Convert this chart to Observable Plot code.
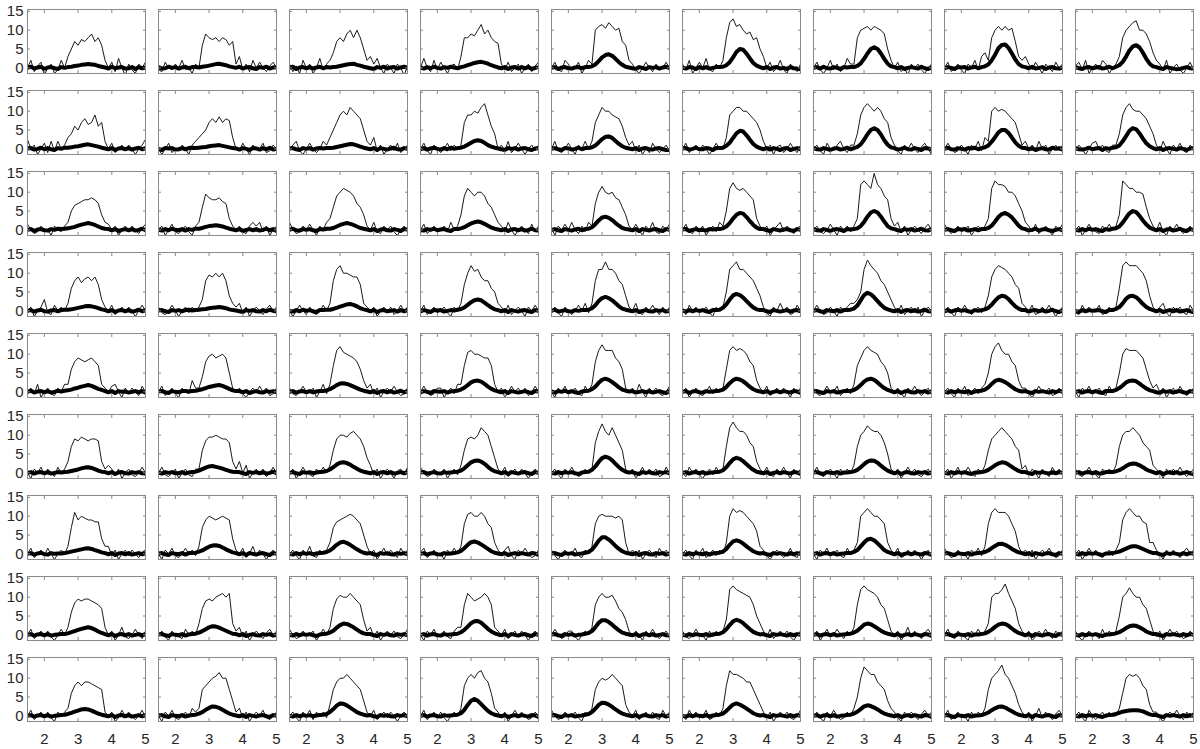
<!DOCTYPE html>
<html>
<head>
<meta charset="utf-8">
<script src="https://cdn.jsdelivr.net/npm/d3@7"></script>
<script src="https://cdn.jsdelivr.net/npm/@observablehq/plot@0.6"></script>
<style>
  html, body { margin: 0; padding: 0; background: #fff; }
  #chart { width: 1200px; height: 749px; }
</style>
</head>
<body>
<div id="chart"></div>
<script>
// sampling grid (x) shared by all panels
const xs = [1.5,1.6,1.7,1.8,1.9,2.0,2.1,2.2,2.3,2.4,2.5,2.6,2.7,2.8,2.9,3.0,3.1,3.2,3.3,3.4,3.5,3.6,3.7,3.8,3.9,4.0,4.1,4.2,4.3,4.4,4.5,4.6,4.7,4.8,4.9,5.0];
const xTicks = [2, 3, 4, 5];
const yTicks = [0, 5, 10, 15];
const cols = [0,1,2,3,4,5,6,7,8];
const rows = [0,1,2,3,4,5,6,7,8];

// thin (raw) series, one string per panel, row by row
const thin0 = [
"0 2 -1 .5 1.5 -2, 0 1 -1.5 -.5 2 0, 3 5 7 6 7.5 7, 8 9 7 8 6 2, 0 1.5 -1 2.5 0 -2, 1 -.5 -1.5 1 0 1.5",
"-.5 -1 1.5 0 -.5 1, 0 2 -.5 0 -1.5 1, 0 6 9 8 7.5 8, 7 8 7.5 6 7 1, 3 -.5 1 -1 2 0, 1.5 0 -1 .5 1.5 0",
"1 -1 .5 -1.5 2 0, 1 -1.5 0 2.5 -.5 1, 2 4 7 8 7 9, 10 8 10 8 5 2, 3 1 2.5 0 -1.5 1, 0 -1.5 1 0 -2 .5",
"0 2.5 0 -1 2 -.5, 1.5 0 -1.5 .5 1 -.5, 3 8 8 9 8.5 10, 11.5 9 10 8 7 6.5, 1 -.5 1.5 -1 0 1, -1.5 0 1 -1 .5 1.5",
"0 1.5 -.5 -1 2 1, -.5 0 1.5 -1.5 0 2, 1 10 11 11.5 10.5 12, 11 10 10.5 7 6 2, 1 -.5 -1.5 0 1.5 0, -1 1 -.5 0 1.5 0",
"1 -.5 2 -1.5 0 1.5, 0 2.5 -.5 -1 1 0, 2 8 12 13 11 11.5, 10 9 9.5 7.5 8 5, 3 0 1.5 -1 0 2, -.5 -1.5 1 0 -1 1",
"0 1.5 -.5 -1.5 0 2, -.5 1 -1 0 2.5 1, 1 8 10 10.5 11 10, 11 10.5 10 9 5 2, 0 1.5 -1 0 -2 1, 0 1 -.5 -1.5 0 1",
"0 1.5 -1 0 1 -.5, -1.5 1 0 2 -.5 3, 4 2 8 10 11 10, 11 10 10.5 7 3 2, 3 1 -.5 1.5 0 -1.5, 1 0 -1 1.5 0 1",
".5 1.5 -.5 2 -1.5 0, 1 -.5 2 1 -1.5 0, 1 3 8 10 11 12, 12.5 10 10 9 7 4, 2 1 -.5 2 -1.5 0, 1 -.5 -1.5 0 1.5 -.5"
];
const thin1 = [
"2.5 0 1 -1.5 0 1.5, -1 2 -.5 2 0 1, 3 4 6 5 7 8, 6.5 7 9 6 7 2, 0 1.5 -1 0 1 -.5, 1 0 -1.5 0 1 2.5",
"0 -1.5 0 1.5 -1 0, -.5 1 0 -1.5 1 2, 3 4 5 7 8 7, 8.5 7 8 7.5 3 0, -.5 1.5 0 -1.5 1 0, 0 1.5 -1 -.5 1 0",
"0 1 2 -.5 -1.5 0, 1.5 0 -1 0 2 1, 3 5 7 9 10 9, 11 10 9 8 5 2, 1 3 -.5 1 -1.5 0, 1 -.5 1.5 -1 0 1",
"0 1.5 -.5 -1.5 1 0, -1 0 1.5 -.5 1 0, 1 7 9 9 10 9.5, 11 12 9 6 4 0, 1 -.5 2 -1 0 1.5, 0 -1.5 0 1 -.5 1",
"0 2 -.5 -1 0 1.5, 0 -1.5 1 0 2 0, 2 7 9 11 10 10, 9 8.5 8 6 3 1, 2 -.5 1 -1.5 0 -1, 1.5 0 -1 0 1 -.5",
"0 1.5 -1 0 1 -.5, 1 0 -1.5 0 1.5 0, 0 3 9 10 11 11, 10 10 9 8 7 5, 2 0 1 -1.5 .5 1, -1 0 1.5 0 -1 1",
"0 1 -.5 -1.5 1.5 0, -.5 1 2 0 -1 1, 1 4 9 11 12 11, 10 11 10 8 7 3, 1 -.5 -1.5 1 0 1.5, 0 -1 .5 1.5 0 -1.5",
"0 1.5 0 -1 -.5 1, 0 -1.5 1 0 2 -.5, 3 2 10 11 10 10.5, 10 9 8 7 4 1, 2 0 1 -.5 2 0, 1 -1.5 0 1 -.5 1",
"-.5 1 0 -1.5 0 1.5, 2 0 1 -.5 -1 1, 1 4 9 11 12 10.5, 10 10 9 8 6 4, 1 -.5 2 0 -1.5 1, 0 1.5 -.5 -1 1 0"
];
const thin2 = [
"1.5 0 -1 -.5 1 0, 0 -1.5 1 0 -.5 1, 2 5 6.5 7 7.5 8, 8 8.5 8 7 4 2, 1.5 0 1 -1.5 0 1, -.5 1 0 -1 .5 1.5",
"0 1 -1.5 0 1.5 -.5, -1 0 1 -.5 -1.5 1, 2 6 9.5 8.5 8 8, 8.5 7.5 7 3 1 0, 1 -.5 -1 1 2 1, 2 -.5 1 -1.5 0 1",
"2 0 -1 -.5 1 0, 1.5 0 -1.5 1 0 2, 3 6 9 10 11 10.5, 10 9 7 6 4 1, 0 2 -.5 -1 1 0, 1 -.5 -1.5 0 1 -.5",
"0 1.5 -1 0 1 -.5, 0 1 -.5 2 0 1, 4 9 11 10 9 10, 10 9 7 6 4 2, 1 -.5 2 0 -1.5 0, 1 0 -1 1.5 -.5 1",
".5 -1.5 1 0 1.5 0, 2 0 -1 1 -.5 2, 1 7 10 11.5 10 9.5, 10 8.5 8 6 4 1, 0 1.5 0 -1.5 1 0, 2 -.5 -1 1 0 1.5",
"0 1.5 -.5 -1 1 0, 1 -1.5 0 1 -.5 2, 1 5 11 12.5 11 10.5, 11 10 9 8 3 1, 0 1 -1.5 0 1 2, -.5 1 0 -1 .5 1",
"0 1 -.5 -1 0 1.5, 0 -1.5 1 0 1 -.5, 1 3 12 13 12 11, 15 12 11 9 8 3, 1 2 -.5 1 -1.5 0, 1 0 -1 .5 1.5 0",
"1.5 0 -1 0 1 -.5, 0 1 -1.5 0 1 0, 1 3 11 13 12 12, 11.5 10 10 9 7 5, 2 1 -.5 1.5 -1 0, 1 0 -1.5 1 0 1.5",
"0 1 -1.5 0 1.5 0, -.5 -1 1 0 1.5 0, 1 4 13 12 11 11, 10 10 9.5 6 3 1, 0 2 -.5 -1.5 1 0, 1.5 0 -1 0 1 -.5"
];
const thin3 = [
"0 1 -1.5 0 1 3, -.5 -1 1.5 0 1 0, 2 6 8 9 7.5 8.5, 9 8 9 7 3 1, 0 1.5 -1 0 1 -.5, 1 0 -1.5 0 1.5 0",
"1 -.5 -1 0 1.5 0, -1.5 0 1 -.5 1 0, 1 3 8 9.5 9 10, 9 10 8 4 2 1, 2 -.5 1 -1.5 0 1, 0 -1 .5 1.5 0 1",
"0 -1.5 0 1.5 0 -1, 1 -.5 -1 0 1.5 0, 2 8 11 12 10 10, 9.5 9 9 7 2 1, 0 1 -1.5 0 1 -.5, 1 -1 0 1.5 0 1",
"0 1.5 -1 0 1 -.5, 0 1 -.5 -1.5 1 0, 2 7 10 12 10.5 11, 9 8 8 6 5 2, 1 -.5 1.5 -1 0 1, 0 -1.5 1 0 1.5 0",
"0 1 -.5 -1.5 1 0, -1 0 1.5 0 2 -.5, 2 8 11 11 13 11, 11 10 8 7 4 1, 0 2 -.5 -1 1 0, 1.5 0 -1 1 -.5 1",
".5 -1 1.5 0 1 -.5, 0 1 -.5 -1.5 1 0, 1 5 11 12 13 11, 11 10 9 8 6 4, 1 -.5 -1.5 1 0 2, 0 1 -1 -.5 1.5 0",
"0 1.5 0 -1 -.5 1, 0 -1.5 1 0 1 2, 2 3 5 11 13.5 12, 11 10 8 7 5 3, 1 -.5 1.5 -1 0 1, -.5 1 -1.5 0 1 0",
"0 1 -.5 -1.5 1 0, 1.5 0 -1 0 1 -.5, 1 4 9 11 12 11.5, 11 10 9 7 6 2, 1 0 1.5 -1 -.5 1, 0 1.5 0 -1.5 0 1",
"-.5 -1 1.5 0 1 0, 0 1.5 -1 -.5 1 0, 1 6 12 13 12 12, 12 11 10 8 4 1, 0 1 2 -.5 -1.5 1, 0 1 -.5 -1 1.5 0"
];
const thin4 = [
"0 1 -.5 2 -1.5 0, 1 -.5 -1 1 0 2, 2 6 8 9 8.5 8, 8.5 9 8 7 2 1, 0 1.5 2 0 -1.5 1, -.5 1 0 -1 1.5 0",
"0 1.5 -1 0 1 -.5, -1.5 1 0 -.5 3 1, 1 4 8 9.5 10 9, 9.5 10 9 5 1 0, 1 -.5 -1.5 0 1 0, 1.5 0 1 -1 -.5 1",
"1 -.5 -1 0 1.5 0, 0 1 -1.5 0 2 -.5, 2 7 11 12 10.5 10, 9.5 9 8 6 3 1, 2 -.5 1 -1.5 0 1, 0 1.5 0 -1 -.5 1",
"0 1.5 0 -1 -.5 1, 1 -1.5 0 1 -.5 2, 2 7 10.5 11 10 10, 9.5 9 9 7 2 0, 1 -1.5 0 1.5 0 1, -.5 1 -1 0 1.5 0",
"0 -1.5 1 0 1.5 -.5, 0 1 -.5 -1 1.5 0, 2 8 11 12.5 11 11, 11 9 8 6 1 0, 1 -.5 2 0 -1.5 1, 0 1 -.5 -1 0 1.5",
"0 1 -1.5 0 1 -.5, -1 0 1.5 -.5 1 0, 1 6 11 12 11 11.5, 11 10 8 7 3 1, 0 1.5 -1 0 1 -.5, 1 0 -1.5 1 0 1",
"1 -.5 -1 0 1.5 0, 0 1.5 -1 0 1 -.5, 2 7 9 11 12 11, 10.5 10 8 7 5 1, 0 1 -.5 -1.5 1 0, 1.5 0 -1 0 1 -.5",
"0 1 -.5 -1.5 1 0, 1.5 -1 0 1 -.5 1, 2 5 10 12 13 11, 10 10 8 7 3 1, 1 -.5 -1.5 0 1.5 0, 0 1 -1 -.5 1 0",
"0 -1.5 1 0 1.5 -.5, 0 1 -.5 -1 1.5 0, 1 5 10 11.5 11 11, 11 10 9 6 3 1, 2 0 1 -1.5 0 1, -.5 1.5 0 -1 0 1"
];
const thin5 = [
"0 -1.5 1 0 1.5 -.5, 1 0 -1 1.5 0 1, 3 7 9 8.5 9.5 9, 8.5 9 9 8.5 3 1, 2 1 -.5 1 -1.5 0, 1 -.5 -1 0 1.5 0",
"0 1.5 -.5 -1 0 1, -1.5 0 1 -.5 -1 1, 1 6 8.5 9.5 9.5 10, 9.5 9 9 8 3 1, 3 0 2 -1.5 0 1, -.5 1 -1 0 1.5 0",
"0 1 -1.5 0 1.5 0, -.5 -1 1 0 1.5 0, 2 6 9 10 10 9.5, 10.5 11 10 9 7 4, 2 -.5 1 -1.5 0 1, 0 -1.5 .5 1 -.5 1.5",
"1.5 0 -1 -.5 1 0, 0 1 -1.5 0 1 -.5, 2 6 9 9.5 9 10, 12 11 10 7 4 1, 0 1.5 -1 0 1 -.5, 1 0 -1.5 0 1 0",
"0 1 -.5 -1.5 1 0, 1.5 0 -1 -.5 1 0, 1 8 11 13 11 10, 12 10 8 6 1 0, 1 -1.5 0 1.5 -.5 1, 0 1 -1 -.5 1.5 0",
"0 -1 1.5 0 1 -.5, -1.5 0 1 -.5 1.5 0, 1 7 12 13.5 12 11, 11 10 8 7 3 1, 0 1.5 -.5 -1 1 0, 1.5 0 -1.5 1 0 1",
"0 1.5 -.5 -1 0 1, 0 -1.5 1 -.5 1 0, 2 7 10 11 12.5 11.5, 11 11 10 8 5 1, 0 1 -1.5 0 1.5 0, 1 -.5 -1 0 1 -.5",
"0 1 -1.5 0 1.5 -.5, 0 1.5 0 -1 1 0, 2 6 9 10 11 12, 11 10 9 7 6 1, 2 -.5 1 0 -1.5 1, 0 -1 1.5 0 1 -.5",
"1 -.5 -1 0 1.5 0, -.5 -1.5 1 0 1 0, 2 7 10 11 11 12, 11 10 8 7 6 2, 1 0 -1.5 1 -.5 1, 0 1.5 0 -1 0 1"
];
const thin6 = [
"0 1.5 -1 0 1 -.5, 1.5 0 -1.5 0 1 0, 2 7 11 9 10 9.5, 9 9 8.5 8.5 4 2, 2 -.5 1 -1.5 0 1, -.5 1 0 -1 .5 1",
"0 -1.5 1 0 1.5 -.5, -1 0 1.5 0 1 -.5, 2 7 9 10 9.5 9, 9.5 10 9.5 9 4 1, 0 1.5 -1 0 2 -.5, 1 0 -1.5 0 1 0",
"0 1 -.5 -1.5 1 0, 2 -.5 -1 1 0 1, 3 7 8.5 9 9.5 10, 10.5 10 9 8 5 2, 0 1 -1.5 0 1.5 -.5, 1 0 -1 1.5 0 1",
".5 1.5 -1 0 1 -.5, 0 -1.5 1 0 1.5 0, 2 8 10.5 11 10 10, 11 10 8 7 3 1, 0 1 2 -.5 -1.5 1, 0 1.5 0 -1 -.5 1",
"1 -.5 -1.5 0 1 0, 0 1.5 -.5 -1 1 0, 2 8 10 10.5 10 10, 10 9.5 10 9 3 0, 1 -.5 1 -1.5 0 1, 0 -1 1.5 0 1 -.5",
"0 1 -.5 -1.5 1 0, 1.5 -1 0 1 -.5 1, 0 3 10 12 11 11.5, 11 10 9 8 6 2, 1 -.5 -1.5 0 1 0, -1 0 1.5 -.5 -1 1",
"0 -1.5 1 0 1.5 -.5, 0 1 -.5 -1 1.5 0, 1 3 10 11 12 11, 10 10 9 8 3 1, 0 1.5 -1 -.5 1 0, 1 0 -1.5 0 1 -.5",
"1.5 0 -1 -.5 1 0, 0 -1.5 1 0 1.5 -.5, 2 8 11 12 11 11, 11 10 8 6 2 0, 1 -.5 1 -1.5 0 1, 0 1.5 0 -1 -.5 1",
"0 1 -1.5 0 1.5 0, 1 -.5 -1 0 1 -.5, 1 3 9 11 12 11, 10 10 8.5 8 3 3, 1 0 -1.5 1 -.5 1, 0 -1 .5 1.5 0 1"
];
const thin7 = [
"0 1.5 -1 0 1 -.5, 1 -.5 -1.5 0 1.5 0, 2 6 8.5 9.5 9 9.5, 9.5 9 8.5 8 7 2, 0 1 -1.5 0 2 -.5, -1 0 1.5 0 -1 1",
"0 1 -.5 -1.5 1 0, -.5 -1 1.5 0 1 0, 3 7 9 9.5 9 10, 10.5 11 10 11 3 1, 2 -.5 1 -1.5 0 1, 0 -1 .5 1.5 0 1",
"1.5 0 -1 -.5 1 0, 0 1 -1.5 0 1.5 0, 2 7 9.5 10.5 10 10, 11 10 9 8 4 1, 2 -.5 1 -1.5 0 1, 0 1 -.5 -1 0 1.5",
"0 -1.5 1 0 1.5 -.5, 0 1 -.5 -1 1 2, 2 8 11 10 9 9.5, 10 11 10 8 2 1, 0 1.5 -1 0 1 -.5, 1 0 -1.5 0 1 0",
"0 1.5 0 -1 -.5 1, 1 -.5 -1.5 0 1 0, 2 8 10 11 10 10, 10.5 9 7 6 4 1, -.5 1 0 -1.5 1 0, 1.5 0 -1 0 1 -.5",
"1 -.5 -1 0 1.5 0, 0 -1.5 1 -.5 1 0, 1 4 12 13 12 11.5, 11 10.5 10 8 5 3, 1 -.5 1.5 -1 0 1, 0 1 -.5 -1.5 0 1",
"0 1 -1.5 0 1.5 -.5, 0 1.5 0 -1 1 0, 2 8 12 13 12 11.5, 11 10 8 7 4 1, 0 1 -1.5 0 2 -.5, 1 0 -1 .5 1.5 0",
"0 1.5 -.5 -1 1 0, -.5 -1.5 1 0 1.5 0, 1 3 10 11 11 12, 13.5 11 9 7 3 1, 0 1 -1.5 -.5 1 0, 1.5 0 -1 1 0 1",
"1 -.5 -1.5 0 1 0, 0 -1 1.5 -.5 1 0, 1 5 10 11 12.5 11, 10 10 8 7 4 1, -.5 1 -1.5 0 1.5 0, 1 0 -1 -.5 1 0"
];
const thin8 = [
"0 1.5 -1 0 1 -.5, 1 -.5 -1.5 1 0 1, 2 6 8 9 8 9, 9 8.5 8 7.5 7 1, 0 1 -1.5 -.5 1.5 0, 1 0 -1 0 1.5 -.5",
"0 -1.5 1 0 1.5 -.5, -1 0 1 -.5 2 1, 2 7 8 9 10 10.5, 11.5 10 10 7 4 1, 2 -.5 1 -1.5 0 1, 0 1.5 -.5 -1 0 1",
"0 1 -.5 -1.5 1 0, 1.5 -1 1 0 1 -.5, 3 7 9 10 10 11, 10 9 8 7 4 1, 0 1.5 -1 0 1 -.5, 1 0 -1.5 0 1 0",
"0 1.5 -1 0 1 -.5, 1 -.5 -1.5 0 1 0, 2 8 10 11 10 11.5, 12 10 9 6 2 1, -.5 1 -1.5 0 1.5 0, 1 0 -1 -.5 1 0",
"1.5 0 -1 -.5 1 0, 0 1 -.5 -1.5 1 0, 2 7 9 10 9.5 10, 11 10 9 8 3 1, 0 1.5 -1 0 1 -.5, 1 -.5 -1 1.5 0 1",
"0 -1 1.5 0 1 -.5, 0 1.5 -1 -.5 1 0, 2 8 12 11 11 10.5, 10 9 9 7 5 3, 1 -.5 1 -1.5 0 1, 0 1 -.5 -1 0 1.5",
"0 1 -.5 -1.5 1 0, 1.5 0 -1 -.5 1 0, 2 5 10 13 12 11, 11 9 8 7 4 2, 1 -.5 -1.5 1 0 1, 0 -1 .5 1.5 0 1",
"0 1.5 -1 0 1 -.5, 0 -1.5 1 -.5 1 0, 2 7 10 11 12 13.5, 11 10 8 6 3 1, 0 1 -1.5 0 2 -.5, 1 0 -1 .5 1.5 0",
"0 1 -.5 -1.5 1.5 0, -1 0 1 -.5 1 0, 0 2 6 10 11 10.5, 11 10 8 7 3 1, 1 -.5 -1.5 0 1 0, 1.5 0 -1 1 -.5 1"
];

// thick (smoothed) series, one string per panel, row by row
const thick0 = [
"0 .3 -.2 .1 .3 -.3, .1 .2 -.1 -.3 .2 0, .2 .3 .5 .6 .8 .9, 1 .9 .8 .5 .3 .1, -.2 .3 -.1 .1 .2 -.2, -.1 .2 -.3 .2 -.1 .1",
".2 -.2 -.1 .3 0 .2, -.2 .1 .3 -.1 .2 .2, .1 .3 .4 .6 .8 1, 1.1 .9 .7 .4 .2 0, .3 -.2 .1 .2 -.1 -.3, .2 0 .3 -.2 .1 .2",
"0 .3 -.3 .1 .2 -.1, .2 -.2 .1 .3 -.1 .2, .1 .2 .3 .5 .7 .9, 1 1.1 .8 .6 .3 .1, -.1 -.3 .2 0 .3 -.2, .1 .2 -.2 .1 .3 0",
".1 -.2 .2 -.1 .3 0, -.2 .2 0 .3 .1 -.1, .2 .4 .7 1 1.3 1.5, 1.6 1.4 1.1 .7 .4 .1, -.1 .2 -.3 .1 .2 -.2, .2 -.1 .2 -.3 0 .2",
"0 .2 -.3 .1 .2 -.1, -.2 .1 .2 -.1 .2 .2, .4 .9 1.8 2.8 3.4 3.6, 3.2 2.4 1.5 .8 .3 .1, -.1 -.3 .2 0 -.3 .2, 0 .2 -.2 .1 .3 -.1",
"0 -.2 .2 .1 -.3 .2, -.1 .2 -.2 0 .2 .2, .3 .7 1.5 2.8 4.2 5, 4.8 3.8 2.5 1.3 .6 .2, -.1 .2 -.3 .1 .2 -.2, 0 -.3 .2 -.1 -.2 -.4",
"0 .2 -.2 .3 -.1 -.2, .2 0 -.3 .2 .1 .2, .2 .5 1.2 2.4 3.8 5, 5.5 5 3.8 2.4 1.1 .4, .2 -.1 .2 -.3 0 .2, 0 -.2 .3 -.1 -.3 .1",
"-.1 .2 0 -.3 .2 .1, .2 -.2 .1 .3 -.1 .2, .4 .9 2 3.5 5.2 6.1, 6.2 5.3 3.8 2.2 1 .4, .2 -.1 .3 -.2 0 .2, -.3 .1 .2 -.1 -.2 0",
".2 -.1 -.3 .1 .2 -.1, .1 .2 -.2 0 .3 -.1, .3 .7 1.6 3 4.6 5.7, 6 5.4 4 2.4 1.1 .4, .2 -.1 -.3 .2 0 -.2, -.4 -.3 0 .2 -.1 -.2"
];
const thick1 = [
".1 .2 -.2 0 .3 -.1, .2 -.1 -.3 .2 0 .3, .3 .4 .6 .7 .9 1.1, 1.2 1 .8 .6 .3 .1, -.1 .2 -.3 .1 .2 -.1, .2 -.2 .1 .3 -.1 .2",
"0 -.3 .2 .1 .2 -.2, -.1 .2 -.1 .2 .3 .2, .3 .4 .5 .7 .8 .9, 1 .8 .6 .4 .2 .1, -.2 .2 0 -.3 .2 .1, -.2 .2 -.1 .3 -.2 0",
".1 .2 -.1 -.3 .2 0, .2 -.2 .1 .2 .1 .2, .2 .3 .5 .7 .9 1.1, 1.3 1.2 .9 .6 .3 .1, -.1 .2 -.3 .2 0 -.2, .1 .3 -.1 -.2 .2 0",
"-.1 .2 -.2 .1 .3 0, -.2 .2 -.1 .3 0 .2, .3 .6 1.1 1.6 2.1 2.3, 2.1 1.6 1 .6 .3 .1, -.1 -.3 .2 0 .2 -.2, .1 .2 -.1 -.3 .1 .2",
"0 .2 -.1 -.3 .2 .1, -.2 0 .3 -.1 .2 .2, .4 .9 1.7 2.6 3.2 3.3, 2.9 2.1 1.3 .7 .3 .1, -.1 .2 -.3 .1 .2 -.1, -.2 .1 .2 -.1 -.3 -.3",
".1 .2 -.2 0 .3 -.1, -.1 .2 .1 -.3 .2 .2, .3 .8 1.6 2.9 4.1 4.8, 4.6 3.6 2.4 1.3 .6 .2, -.1 .2 -.2 .2 0 -.3, .1 .2 -.3 0 .2 -.1",
".2 -.1 -.2 .2 0 -.3, .1 .2 -.2 0 .3 -.1, .2 .5 1.2 2.4 3.9 5, 5.5 5 3.8 2.3 1.1 .4, .2 -.2 0 .3 -.1 -.2, .2 0 -.3 .2 .1 -.2",
"0 .3 -.1 -.2 .2 0, -.2 .2 .1 .3 -.1 .2, .4 .9 1.9 3.1 4.4 5, 5 4.2 3 1.7 .8 .3, .2 -.1 .2 -.3 0 .2, -.1 -.2 .3 0 .2 -.2",
".2 -.1 -.2 0 .3 -.1, .1 .2 -.3 .2 0 .3, .4 .9 2 3.4 4.8 5.5, 5.2 4.1 2.7 1.5 .7 .2, -.1 .2 -.3 .1 .2 0, -.2 .2 0 -.3 .1 .2"
];
const thick2 = [
"0 .2 -.3 .1 .2 -.1, -.2 .2 0 .3 .2 .3, .4 .6 .8 1.1 1.4 1.6, 1.8 1.6 1.3 .9 .5 .3, .2 -.1 .2 -.3 0 .2, -.1 .2 -.2 0 .3 -.1",
".1 -.2 .2 -.1 .3 0, -.1 .2 -.2 .2 0 .3, .3 .5 .8 1 1.1 1.2, 1.1 .9 .6 .3 .1 -.1, .2 -.3 0 .2 -.1 .2, -.2 0 .3 -.1 .2 -.3",
"0 .3 -.1 -.2 .2 0, .2 -.1 -.3 .2 .1 .3, .3 .5 .9 1.3 1.6 1.8, 1.6 1.3 .9 .5 .3 .1, -.1 .2 -.3 .1 .2 -.1, -.2 .2 0 -.3 .2 .1",
"-.1 -.2 .2 0 .3 -.1, .1 .2 -.1 -.3 .2 .2, .4 .7 1.2 1.7 2 2.2, 2 1.6 1.1 .6 .3 .1, -.1 .2 -.3 .1 .2 -.1, .2 -.2 0 .3 -.1 -.2",
"0 .2 -.1 -.3 .2 0, -.2 .1 .3 -.1 .2 .3, .7 1.5 2.5 3.3 3.5 3.2, 2.6 1.8 1.1 .5 .2 .1, -.1 .2 -.3 .2 0 -.2, .1 .2 -.1 -.3 .2 0",
".1 .2 -.3 0 .2 -.1, 0 -.2 .2 .1 .2 .2, .4 .9 1.8 3 4 4.5, 4.3 3.4 2.3 1.3 .6 .2, .2 -.1 -.3 .2 0 -.2, .1 .2 -.1 -.3 .2 0",
".2 -.1 -.2 .2 0 -.3, .1 .2 0 -.3 .2 .1, .2 .4 1 2.1 3.5 4.6, 5 4.6 3.5 2.2 1 .4, .2 -.1 -.3 .2 0 .2, -.2 0 .3 -.1 -.2 .2",
"0 .2 -.1 -.3 .2 .1, .2 -.2 0 .2 -.1 .2, .2 .5 1.1 2.2 3.4 4.2, 4.5 4 3.3 2.2 1.1 .4, .2 -.2 0 .3 -.2 .1, .2 -.1 -.3 0 .2 -.1",
"0 -.2 .2 -.1 .3 0, .2 -.1 -.3 .2 0 .3, .4 .9 1.9 3.2 4.4 5, 4.7 3.7 2.5 1.4 .6 .2, -.1 .2 -.3 .1 .2 -.2, 0 .3 -.1 -.3 .2 0"
];
const thick3 = [
"0 .2 -.2 .1 .3 -.1, -.2 .1 .2 -.1 .2 .3, .3 .4 .6 .8 1 1.2, 1.3 1.2 1 .7 .4 .2, -.1 .2 -.3 .1 .2 -.1, .2 -.2 0 .3 -.1 .2",
".1 .2 -.1 -.3 .2 0, .2 -.1 .2 .3 .1 .2, .3 .4 .5 .7 .8 .9, 1 .9 .7 .4 .2 .1, -.1 -.3 .2 0 .2 -.1, -.2 .2 -.1 .3 0 -.2",
"0 -.2 .2 -.1 .3 0, .2 -.1 -.3 .2 .2 .3, .3 .5 .8 1.1 1.4 1.7, 1.8 1.6 1.2 .7 .4 .2, -.1 .2 -.3 .1 .2 -.1, 0 .2 -.2 .2 -.1 .2",
"-.1 .2 0 -.3 .2 .1, .2 -.2 0 .2 .1 .3, .5 .9 1.6 2.3 2.8 3, 2.8 2.2 1.5 .9 .4 .2, -.1 .2 -.3 .2 0 -.2, .1 .2 -.1 -.3 .2 0",
"0 .3 -.2 0 .2 -.1, -.2 .2 0 .2 .2 .3, .7 1.5 2.6 3.4 3.7 3.4, 2.8 2 1.2 .6 .3 .1, -.1 .2 -.3 0 .2 -.1, -.2 .2 0 .2 -.2 0",
".1 -.2 .2 -.1 .2 0, .2 -.1 -.3 .2 .2 .3, .8 1.7 3 4.1 4.5 4.2, 3.5 2.6 1.7 .9 .4 .2, .2 -.1 -.3 .2 0 -.2, 0 .2 -.2 .1 .2 -.1",
"0 .2 -.1 -.3 .2 0, -.1 .2 -.2 .2 .2 .3, .6 1.4 2.8 4.2 4.8 4.4, 3.6 2.6 1.6 .8 .4 .1, -.1 .2 -.3 .1 .2 -.1, .2 -.2 0 .3 -.1 -.2",
"-.1 .2 -.2 .1 .3 0, .2 -.1 -.3 .2 0 .2, .4 .8 1.6 2.7 3.6 4, 3.8 3.1 2.1 1.2 .6 .2, .2 -.2 .1 .2 -.1 .2, -.2 0 .3 -.1 -.3 .1",
"0 -.3 .2 -.1 .2 0, .1 .2 -.1 -.3 .2 .2, .5 1 2 3.2 3.9 4, 3.6 2.8 1.8 1 .5 .2, -.1 .2 -.3 0 .2 -.1, .2 -.2 0 .2 -.1 -.3"
];
const thick4 = [
"0 .3 -.2 .1 .2 -.1, .2 -.2 0 .3 .1 .3, .4 .6 .9 1.1 1.4 1.6, 1.8 1.6 1.2 .8 .5 .2, -.1 .2 -.3 .2 0 .1, -.2 0 .2 -.1 .2 -.2",
".1 .2 -.1 -.3 .2 0, -.1 .2 .2 .1 .2 .3, .5 .7 1 1.3 1.5 1.7, 1.8 1.6 1.2 .8 .4 .2, .2 -.1 .2 -.3 0 .2, -.1 -.2 .2 0 .2 -.1",
"0 .2 -.2 .1 .2 -.1, .2 -.1 .1 .2 .2 .4, .7 1.2 1.8 2.2 2.3 2.1, 1.8 1.4 1 .6 .3 .1, -.1 .2 -.3 .1 .2 -.1, .2 -.2 0 .3 -.1 .2",
"-.1 .2 0 -.3 .2 .1, 0 .2 -.2 .1 .2 .3, .6 1.1 1.8 2.5 2.9 3, 2.7 2.1 1.4 .8 .4 .1, -.1 .2 -.3 .2 0 -.2, 0 .2 -.1 -.3 .2 .1",
".1 -.2 .2 0 .3 -.1, .2 -.1 -.3 .1 .2 .3, .7 1.4 2.4 3.2 3.5 3.2, 2.6 1.9 1.2 .6 .3 .1, .2 -.2 0 .2 -.1 .2, -.2 0 .2 -.1 -.3 .2",
"0 .2 -.3 .1 .2 -.1, -.2 .2 0 .1 .2 .3, .6 1.3 2.3 3.1 3.5 3.3, 2.8 2.1 1.3 .7 .3 .1, -.1 .2 -.3 0 .2 -.1, .2 0 -.2 .2 .1 -.3",
".1 .2 -.1 -.3 .2 0, .2 -.2 0 .2 .2 .2, .5 1 1.8 2.7 3.3 3.5, 3.2 2.5 1.7 1 .5 .2, -.1 .2 -.3 .1 .2 -.1, -.2 .2 0 .2 -.2 .1",
"0 -.2 .2 -.1 .2 0, -.1 .2 -.3 .1 .2 .3, .6 1.2 2.1 2.9 3.2 3, 2.6 2 1.3 .7 .3 .1, .2 -.1 -.3 .2 0 .2, 0 -.2 .2 -.1 .3 0",
"0 .2 -.2 .1 .2 -.1, .2 -.1 -.3 .2 .2 .2, .5 1 1.7 2.5 2.9 3, 2.8 2.2 1.5 .9 .4 .2, -.1 -.3 .2 0 .2 -.2, .1 .2 -.1 -.3 .2 0"
];
const thick5 = [
"0 .2 -.2 .1 .2 -.1, .2 -.2 0 .2 .1 .2, .3 .5 .7 .9 1.2 1.4, 1.5 1.3 1 .6 .3 .2, -.1 .2 -.3 .1 .2 -.1, -.2 .2 0 .2 -.1 -.2",
".1 -.2 .2 0 .2 -.1, -.1 .2 -.2 .1 .2 .3, .6 1 1.4 1.7 1.8 1.6, 1.4 1.1 .8 .5 .3 .2, .2 -.1 -.3 .2 0 .2, -.1 .2 -.2 0 .3 -.1",
"0 .2 -.1 -.3 .2 0, .2 -.1 .1 .2 .3 .5, .9 1.5 2.2 2.7 2.8 2.6, 2.2 1.6 1.1 .6 .3 .1, -.1 .2 -.3 .1 .2 -.1, .2 -.2 0 .2 -.1 .2",
".1 .2 -.2 0 .2 -.1, -.2 .2 0 .1 .2 .3, .6 1.2 2 2.8 3.2 3.3, 3 2.4 1.6 .9 .4 .2, -.1 .2 -.3 .2 0 -.2, .1 .2 -.1 -.3 .2 0",
"0 -.2 .2 -.1 .2 0, .2 -.1 -.3 .1 .2 .3, .8 1.7 2.9 3.9 4.3 4, 3.3 2.4 1.5 .8 .3 .1, .2 -.1 -.3 .2 0 .2, -.1 -.2 .2 0 .2 -.1",
"0 .2 -.2 .1 .2 -.1, .2 -.2 0 .1 .2 .3, .7 1.5 2.6 3.6 4 3.7, 3.1 2.3 1.5 .8 .3 .1, -.1 .2 -.3 0 .2 -.1, .2 0 -.2 .2 .1 -.3",
".1 .2 -.1 -.3 .2 0, -.1 .2 -.2 .1 .1 .2, .4 .8 1.5 2.3 3 3.3, 3.2 2.7 1.9 1.2 .6 .2, -.1 .2 -.3 .1 .2 -.1, -.2 .2 0 .2 -.2 .1",
"0 -.2 .2 -.1 .2 0, .2 -.1 -.3 .1 .1 .2, .4 .8 1.4 2 2.5 2.8, 2.7 2.2 1.6 1 .5 .2, .2 -.1 -.3 .2 0 .2, 0 -.2 .2 -.1 .2 0",
"0 .2 -.2 .1 .2 -.1, .2 -.2 -.1 .2 .2 .2, .4 .7 1.2 1.8 2.3 2.5, 2.4 2 1.5 .9 .5 .2, -.1 .2 -.3 0 .2 -.1, .2 -.2 0 .2 -.1 -.3"
];
const thick6 = [
"0 .2 -.2 .1 .3 -.1, -.2 .2 0 .1 .1 .2, .4 .6 .8 1 1.2 1.4, 1.5 1.3 1 .7 .4 .2, -.1 .2 -.3 .1 .2 -.1, .2 -.2 0 .2 -.1 .2",
".1 .2 -.1 -.3 .2 0, -.1 .2 -.2 .2 .2 .3, .6 .9 1.4 1.9 2.2 2.3, 2.1 1.7 1.2 .8 .4 .2, -.1 .2 -.3 .2 0 -.2, .1 .2 -.1 -.3 .2 0",
"0 -.2 .2 -.1 .2 0, .2 -.1 .1 .2 .3 .5, .9 1.6 2.4 3 3.2 2.9, 2.4 1.8 1.2 .7 .3 .1, .2 -.1 -.3 .2 0 .2, -.1 -.2 .2 0 .2 -.1",
"0 .2 -.2 .1 .2 -.1, -.2 .2 0 .1 .2 .4, .8 1.5 2.4 3.1 3.3 3, 2.5 1.9 1.3 .7 .3 .1, -.1 .2 -.3 0 .2 -.1, .2 0 -.2 .2 .1 -.3",
".1 .2 -.1 -.3 .2 0, .2 -.2 0 .1 .3 .5, 1.1 2.2 3.5 4.4 4.4 3.8, 3 2.1 1.3 .7 .3 .1, -.1 .2 -.3 .1 .2 -.1, -.2 .2 0 .2 -.2 .1",
"0 -.2 .2 -.1 .2 0, -.1 .2 -.2 .1 .2 .3, .6 1.3 2.4 3.3 3.6 3.3, 2.7 2 1.3 .7 .3 .1, .2 -.1 -.3 .2 0 .2, 0 -.2 .2 -.1 .2 0",
"0 .2 -.2 .1 .2 -.1, .2 -.2 0 .1 .2 .2, .5 1 2 3 3.8 4, 3.6 2.8 1.9 1 .5 .2, -.1 .2 -.3 0 .2 -.1, .2 0 -.2 .2 .1 -.3",
".1 .2 -.1 -.3 .2 0, -.1 .2 -.2 .1 .2 .3, .5 .9 1.5 2.1 2.6 2.7, 2.4 1.9 1.3 .8 .4 .2, -.1 .2 -.3 .2 0 -.2, .1 .2 -.1 -.3 .2 0",
"0 -.2 .2 -.1 .2 0, .2 -.1 -.3 .1 .1 .2, .4 .6 1 1.4 1.8 2, 2 1.7 1.3 .9 .5 .2, .2 -.1 -.3 .2 0 .2, 0 -.2 .2 -.1 .2 0"
];
const thick7 = [
"0 .2 -.2 .1 .2 -.1, .2 -.2 0 .1 .2 .2, .4 .7 1 1.3 1.6 1.8, 2 1.8 1.4 .9 .5 .2, -.1 .2 -.3 .1 .2 -.1, .2 -.2 0 .2 -.1 .2",
".1 .2 -.1 -.3 .2 0, -.1 .2 -.2 .1 .2 .3, .6 1 1.5 2 2.3 2.2, 1.9 1.5 1.1 .7 .3 .2, -.1 .2 -.3 0 .2 -.1, -.2 .2 0 .2 -.2 0",
"0 -.2 .2 -.1 .2 0, .2 -.1 -.3 .1 .2 .3, .6 1.1 1.9 2.6 3 2.9, 2.5 2 1.4 .8 .4 .2, .2 -.1 -.3 .2 0 .2, -.1 -.2 .2 0 .2 -.1",
"0 .2 -.2 .1 .2 -.1, -.2 .2 0 .1 .2 .3, .7 1.3 2.2 3.1 3.6 3.7, 3.2 2.4 1.6 .9 .4 .1, -.1 .2 -.3 .2 0 -.2, .1 .2 -.1 -.3 .2 0",
".1 .2 -.1 -.3 .2 0, .2 -.2 0 .1 .3 .5, 1 2 3.2 3.9 3.9 3.4, 2.7 1.9 1.2 .6 .3 .1, -.1 .2 -.3 .1 .2 -.1, .2 -.2 0 .2 -.1 -.2",
"0 -.2 .2 -.1 .2 0, -.1 .2 -.2 .1 .2 .3, .7 1.5 2.6 3.6 4 3.7, 3.1 2.3 1.5 .8 .4 .1, .2 -.1 -.3 .2 0 .2, 0 -.2 .2 -.1 .2 0",
"0 .2 -.2 .1 .2 -.1, .2 -.2 0 .1 .2 .3, .6 1.1 1.9 2.7 3 2.8, 2.3 1.7 1.1 .6 .3 .1, -.1 .2 -.3 0 .2 -.1, .2 0 -.2 .2 .1 -.3",
".1 .2 -.1 -.3 .2 0, -.1 .2 -.2 .1 .1 .2, .4 .8 1.4 2.1 2.7 3, 2.9 2.4 1.7 1 .5 .2, -.1 .2 -.3 .2 0 -.2, .1 .2 -.1 -.3 .2 0",
"0 -.2 .2 -.1 .2 0, .2 -.1 -.3 .1 .1 .2, .4 .7 1.2 1.8 2.3 2.5, 2.4 2 1.5 .9 .5 .2, .2 -.1 -.3 .2 0 .2, 0 -.2 .2 -.1 .2 0"
];
const thick8 = [
"0 .2 -.2 .1 .2 -.1, .2 -.2 0 .1 .2 .3, .5 .8 1.1 1.4 1.7 1.8, 1.7 1.4 1 .6 .3 .1, -.1 .2 -.3 .1 .2 -.1, .2 -.2 0 .2 -.1 .2",
".1 .2 -.1 -.3 .2 0, -.1 .2 -.2 .1 .2 .3, .6 1 1.6 2.1 2.5 2.4, 2.1 1.6 1.1 .6 .3 .1, -.1 .2 -.3 .2 0 -.2, .1 .2 -.1 -.3 .2 0",
"0 -.2 .2 -.1 .2 0, .2 -.1 .1 .2 .3 .5, 1 1.8 2.7 3.3 3.2 2.8, 2.2 1.6 1 .6 .3 .1, .2 -.1 -.3 .2 0 .2, -.1 -.2 .2 0 .2 -.1",
"0 .2 -.2 .1 .2 -.1, -.2 .2 0 .1 .2 .3, .7 1.6 2.9 4 4.5 4, 3.1 2.2 1.3 .7 .3 .1, -.1 .2 -.3 0 .2 -.1, .2 0 -.2 .2 .1 -.3",
".1 .2 -.1 -.3 .2 0, .2 -.2 0 .1 .3 .5, 1 1.9 2.9 3.5 3.4 3, 2.4 1.7 1.1 .6 .3 .1, -.1 .2 -.3 .1 .2 -.1, -.2 .2 0 .2 -.2 .1",
"0 -.2 .2 -.1 .2 0, -.1 .2 -.2 .1 .2 .3, .6 1.3 2.2 3 3.3 3, 2.5 1.9 1.3 .7 .3 .1, .2 -.1 -.3 .2 0 .2, 0 -.2 .2 -.1 .2 0",
"0 .2 -.2 .1 .2 -.1, .2 -.2 0 .1 .2 .3, .6 1.1 1.8 2.5 2.8 2.6, 2.2 1.7 1.1 .6 .3 .1, -.1 .2 -.3 0 .2 -.1, .2 0 -.2 .2 .1 -.3",
".1 .2 -.1 -.3 .2 0, -.1 .2 -.2 .1 .1 .2, .5 .9 1.5 2 2.4 2.5, 2.2 1.7 1.2 .7 .3 .1, -.1 .2 -.3 .2 0 -.2, .1 .2 -.1 -.3 .2 0",
"0 -.2 .2 -.1 .2 0, .2 -.1 -.3 .1 .2 .3, .5 .8 1.1 1.3 1.4 1.5, 1.5 1.4 1.2 .8 .4 .2, .2 -.1 -.3 .2 0 .2, 0 -.2 .2 -.1 .2 0"
];

const thinRows = [thin0, thin1, thin2, thin3, thin4, thin5, thin6, thin7, thin8];
const thickRows = [thick0, thick1, thick2, thick3, thick4, thick5, thick6, thick7, thick8];

function parseSeries(s) {
  return s.split(/[\s,]+/).filter(t => t !== "").map(Number);
}
function toTable(rowsOfStrings) {
  const out = [];
  rowsOfStrings.forEach((rowArr, r) => {
    rowArr.forEach((s, c) => {
      const vals = parseSeries(s);
      vals.forEach((v, i) => {
        if (i < xs.length) out.push({row: r, col: c, x: xs[i], y: v});
      });
    });
  });
  return out;
}
const thinData = toTable(thinRows);
const thickData = toTable(thickRows);

const chart = Plot.plot({
  width: 1200,
  height: 749,
  marginTop: 8,
  marginBottom: 27,
  marginLeft: 27,
  marginRight: 7,
  style: {fontFamily: "'Liberation Sans', Arial, Helvetica, sans-serif", fontSize: "15px", color: "#262626", background: "#ffffff"},
  x: {domain: [1.5, 5]},
  y: {domain: [-1.5, 15.5]},
  fx: {domain: cols, axis: null, paddingInner: 0.1, paddingOuter: 0},
  fy: {domain: rows, axis: null, paddingInner: 0.21, paddingOuter: 0},
  marks: [
    Plot.line(thinData, {x: "x", y: "y", fx: "col", fy: "row", stroke: "#000", strokeWidth: 0.9, clip: true}),
    Plot.line(thickData, {x: "x", y: "y", fx: "col", fy: "row", stroke: "#000", strokeWidth: 4, strokeLinejoin: "round", clip: true}),
    Plot.axisX(xTicks, {anchor: "bottom", tickSize: -3, tickFormat: () => "", label: null, facetAnchor: null, stroke: "#888"}),
    Plot.axisX(xTicks, {anchor: "top", tickSize: -3, tickFormat: () => "", label: null, facetAnchor: null, stroke: "#888"}),
    Plot.axisY(yTicks, {anchor: "left", tickSize: -3, tickFormat: () => "", label: null, facetAnchor: null, stroke: "#888"}),
    Plot.axisY(yTicks, {anchor: "right", tickSize: -3, tickFormat: () => "", label: null, facetAnchor: null, stroke: "#888"}),
    Plot.axisX(xTicks, {anchor: "bottom", tickSize: 0, tickPadding: 12, label: null, fontSize: 15}),
    Plot.axisY(yTicks, {anchor: "left", tickSize: 0, tickPadding: 4, label: null, fontSize: 15}),
    Plot.frame({stroke: "#8a8a8a", strokeWidth: 1})
  ]
});
document.getElementById("chart").appendChild(chart);
</script>
</body>
</html>
